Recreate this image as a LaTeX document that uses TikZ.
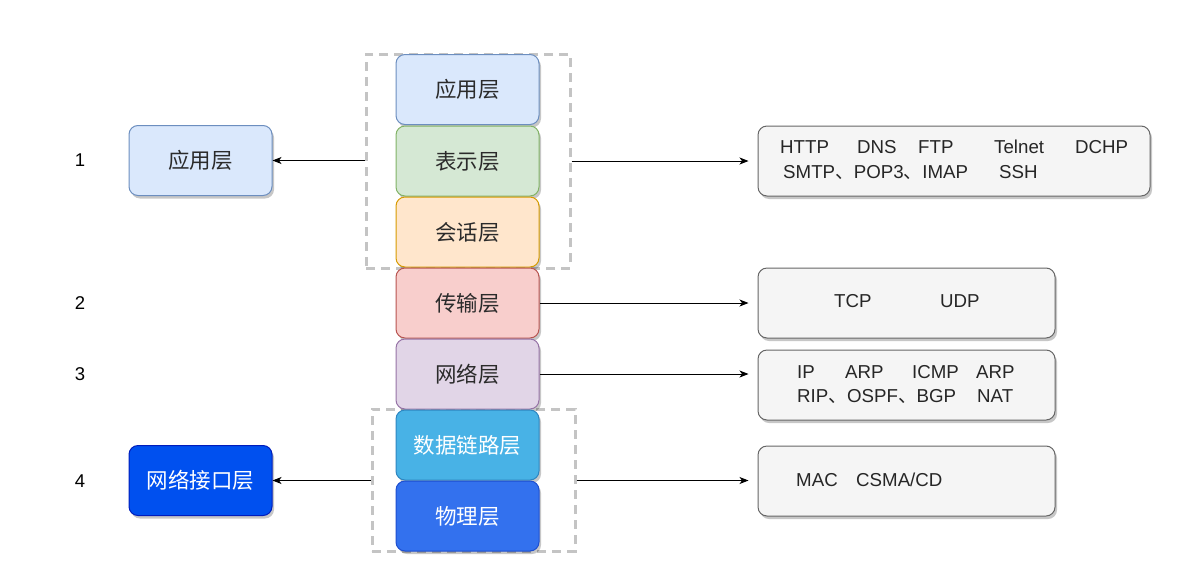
\documentclass[tikz,border=0pt]{standalone}
\usepackage{fontspec}
\setmainfont{Liberation Sans}
\newfontfamily\cjk{Noto Sans CJK SC}
\usetikzlibrary{arrows.meta,shadows}
\definecolor{txt}{HTML}{2B2B2B}
\definecolor{bluefill}{HTML}{DAE8FC}\definecolor{bluestroke}{HTML}{6C8EBF}
\definecolor{greenfill}{HTML}{D5E8D4}\definecolor{greenstroke}{HTML}{82B366}
\definecolor{orangefill}{HTML}{FFE6CC}\definecolor{orangestroke}{HTML}{D79B00}
\definecolor{redfill}{HTML}{F8CECC}\definecolor{redstroke}{HTML}{B85450}
\definecolor{purplefill}{HTML}{E1D5E7}\definecolor{purplestroke}{HTML}{9673A6}
\definecolor{skyfill}{HTML}{48B2E6}\definecolor{skystroke}{HTML}{2E86C1}
\definecolor{royalfill}{HTML}{3371EE}\definecolor{royalstroke}{HTML}{1F4FD0}
\definecolor{cobaltfill}{HTML}{0050EF}\definecolor{cobaltstroke}{HTML}{001DBC}
\definecolor{greyfill}{HTML}{F5F5F5}\definecolor{greystroke}{HTML}{666666}
\definecolor{dashgrey}{HTML}{C4C4C4}
\begin{document}
\begin{tikzpicture}[x=1pt,y=-1pt,
  layer/.style={draw, rounded corners=9pt, minimum width=143pt, minimum height=70pt,
    line width=1pt, inner sep=0pt, font=\cjk\fontsize{21.5}{24}\selectfont, text=txt,
    drop shadow={shadow xshift=2pt, shadow yshift=-3pt, opacity=0.22, fill=black}},
  protobox/.style={draw=greystroke, fill=greyfill, rounded corners=9pt, minimum height=70pt,
    line width=1pt, inner sep=0pt,
    drop shadow={shadow xshift=2pt, shadow yshift=-3pt, opacity=0.22, fill=black}},
  dashbox/.style={draw=dashgrey, line width=3pt, dash pattern=on 9pt off 6pt, inner sep=0pt},
  proto/.style={anchor=base west, inner sep=0pt, font=\fontsize{18.7}{22}\selectfont, text=black!85},
  num/.style={inner sep=0pt, font=\fontsize{18.5}{22}\selectfont, text=black},
  arr/.style={-{Stealth[length=9pt,width=7pt,inset=2.5pt]}, line width=0.9pt, black}
]
\useasboundingbox (0,0) rectangle (1190,573);
\fill[white] (0,0) rectangle (1190,573);

% dashed groups
\node[dashbox, minimum width=204pt, minimum height=214pt] (topdash) at (468,161) {};
\node[dashbox, minimum width=203pt, minimum height=142pt] (botdash) at (473.5,480) {};

% centre stack
\node[layer, fill=bluefill, draw=bluestroke] (app) at (467.5,89.5) {应用层};
\node[layer, fill=greenfill, draw=greenstroke] (pres) at (467.5,161) {表示层};
\node[layer, fill=orangefill, draw=orangestroke] (sess) at (467.5,232) {会话层};
\node[layer, fill=redfill, draw=redstroke] (trans) at (467.5,303) {传输层};
\node[layer, fill=purplefill, draw=purplestroke] (net) at (467.5,374) {网络层};
\node[layer, fill=skyfill, draw=skystroke, text=white] (link) at (467.5,445) {数据链路层};
\node[layer, fill=royalfill, draw=royalstroke, text=white] (phys) at (467.5,516) {物理层};

% left column
\node[layer, fill=bluefill, draw=bluestroke] (lapp) at (200.5,160.5) {应用层};
\node[layer, fill=cobaltfill, draw=cobaltstroke, text=white] (lnif) at (200.5,480.5) {网络接口层};

\node[num] (n1) at (80,160) {1};
\node[num] (n2) at (80,303) {2};
\node[num] (n3) at (80,374) {3};
\node[num] (n4) at (80,481) {4};

% right column boxes
\node[protobox, minimum width=392pt] (r1) at (954,161) {};
\node[protobox, minimum width=297pt] (r2) at (906.5,303) {};
\node[protobox, minimum width=297pt] (r3) at (906.5,385) {};
\node[protobox, minimum width=297pt] (r4) at (906.5,481) {};

\node[proto] (t11) at (780,153) {HTTP};
\node[proto] (t12) at (857,153) {DNS};
\node[proto] (t13) at (918,153) {FTP};
\node[proto] (t14) at (994,153) {Telnet};
\node[proto] (t15) at (1075,153) {DCHP};
\node[proto] (t16) at (783,178) {SMTP{\cjk 、}POP3{\cjk 、}IMAP};
\node[proto] (t17) at (999,178) {SSH};

\node[proto] (t21) at (834,307) {TCP};
\node[proto] (t22) at (940,307) {UDP};

\node[proto] (t31) at (797,378) {IP};
\node[proto] (t32) at (845,378) {ARP};
\node[proto] (t33) at (912,378) {ICMP};
\node[proto] (t34) at (976,378) {ARP};
\node[proto] (t35) at (797,402) {RIP{\cjk 、}OSPF{\cjk 、}BGP};
\node[proto] (t36) at (977,402) {NAT};

\node[proto] (t41) at (796,486) {MAC};
\node[proto] (t42) at (856,486) {CSMA/CD};

% connectors
\draw[arr] (topdash.west |- lapp.east) -- (lapp.east);
\draw[arr, shorten >=9pt] (topdash.east) -- (topdash.east -| r1.west);
\draw[arr, shorten >=9pt] (trans.east) -- (trans.east -| r2.west);
\draw[arr, shorten >=9pt] (net.east) -- (net.east -| r3.west);
\draw[arr] (botdash.west |- lnif.east) -- (lnif.east);
\draw[arr, shorten >=9pt] (botdash.east |- lnif.east) -- (lnif.east -| r4.west);
\end{tikzpicture}
\end{document}
